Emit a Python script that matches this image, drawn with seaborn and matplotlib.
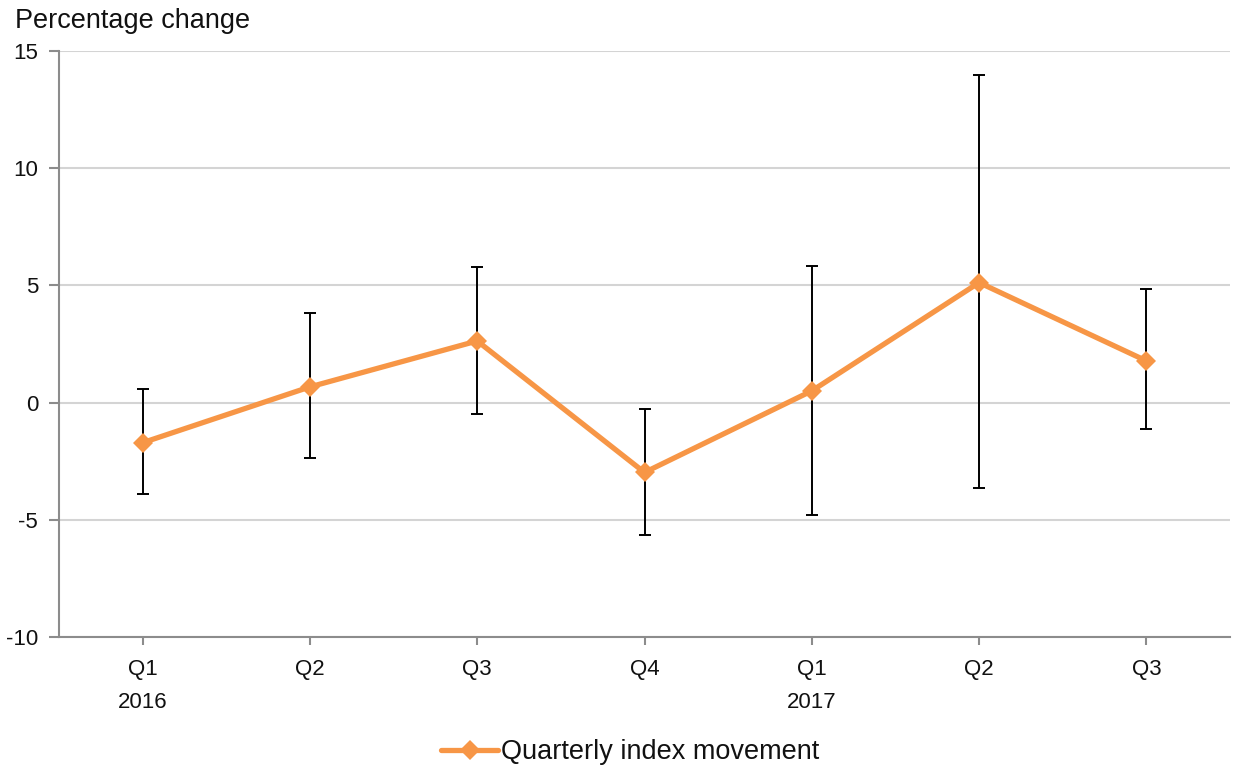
import matplotlib
matplotlib.use("Agg")
import matplotlib.pyplot as plt
import seaborn as sns
import numpy as np
import pandas as pd

quarters = ["Q1\n2016", "Q2", "Q3", "Q4", "Q1\n2017", "Q2", "Q3"]
values = [-1.71, 0.67, 2.63, -2.98, 0.50, 5.12, 1.78]
upper = [0.57, 3.81, 5.77, -0.26, 5.83, 13.96, 4.86]
lower = [-3.89, -2.36, -0.48, -5.65, -4.78, -3.64, -1.13]
yticks = [-10, -5, 0, 5, 10, 15]

sns.set_theme(style="white")
plt.rcParams['font.family'] = ['Liberation Sans', 'DejaVu Sans']

fig = plt.figure(figsize=(12.4, 7.7), dpi=100)
ax = fig.add_axes([59/1240, 1 - 637/770, (1230 - 59)/1240, (637 - 51)/770])

pos = np.arange(len(values))
df = pd.DataFrame({"pos": pos, "value": values})

v = np.array(values)
yerr = np.vstack([v - np.array(lower), np.array(upper) - v])
ax.errorbar(pos, v, yerr=yerr, fmt="none", ecolor="black", elinewidth=1.4,
            capsize=4.5, capthick=1.4, zorder=2)

sns.lineplot(data=df, x="pos", y="value", ax=ax, color="#F79646", linewidth=3.8,
             marker="D", markersize=10, markeredgewidth=0,
             label="Quarterly index movement", zorder=3)

ax.set_xlim(-0.5, len(values) - 0.5)
ax.set_ylim(-10, 15)
ax.set_yticks(yticks)
ax.set_yticklabels([str(t) for t in yticks])
ax.set_xticks(pos)
ax.set_xticklabels(quarters, linespacing=1.75)
ax.set_xlabel("")
ax.set_ylabel("")

ax.grid(axis="y", color="#d4d4d4", linewidth=1.5)
ax.set_axisbelow(True)
for s in ["top", "right"]:
    ax.spines[s].set_visible(False)
for s in ["left", "bottom"]:
    ax.spines[s].set_color("#8c8c8c")
    ax.spines[s].set_linewidth(1.5)

ax.tick_params(axis="y", which="both", left=True, length=7, width=1.5, color="#8c8c8c",
               labelsize=16, pad=8, labelcolor="#111111")
ax.tick_params(axis="x", which="both", bottom=True, length=6, width=1.5, color="#8c8c8c",
               labelsize=16, pad=10, labelcolor="#111111")

fig.text(15/1240, 1 - 28/770, "Percentage change", fontsize=19.5, color="#111111",
         ha="left", va="baseline")

leg = ax.legend(loc="center", bbox_to_anchor=(630/1240, 18/770),
                bbox_transform=fig.transFigure, frameon=False, fontsize=19.5,
                handlelength=2.1, handletextpad=0.1, borderpad=0,
                labelcolor="#111111")

fig.savefig("out.png", dpi=100)
